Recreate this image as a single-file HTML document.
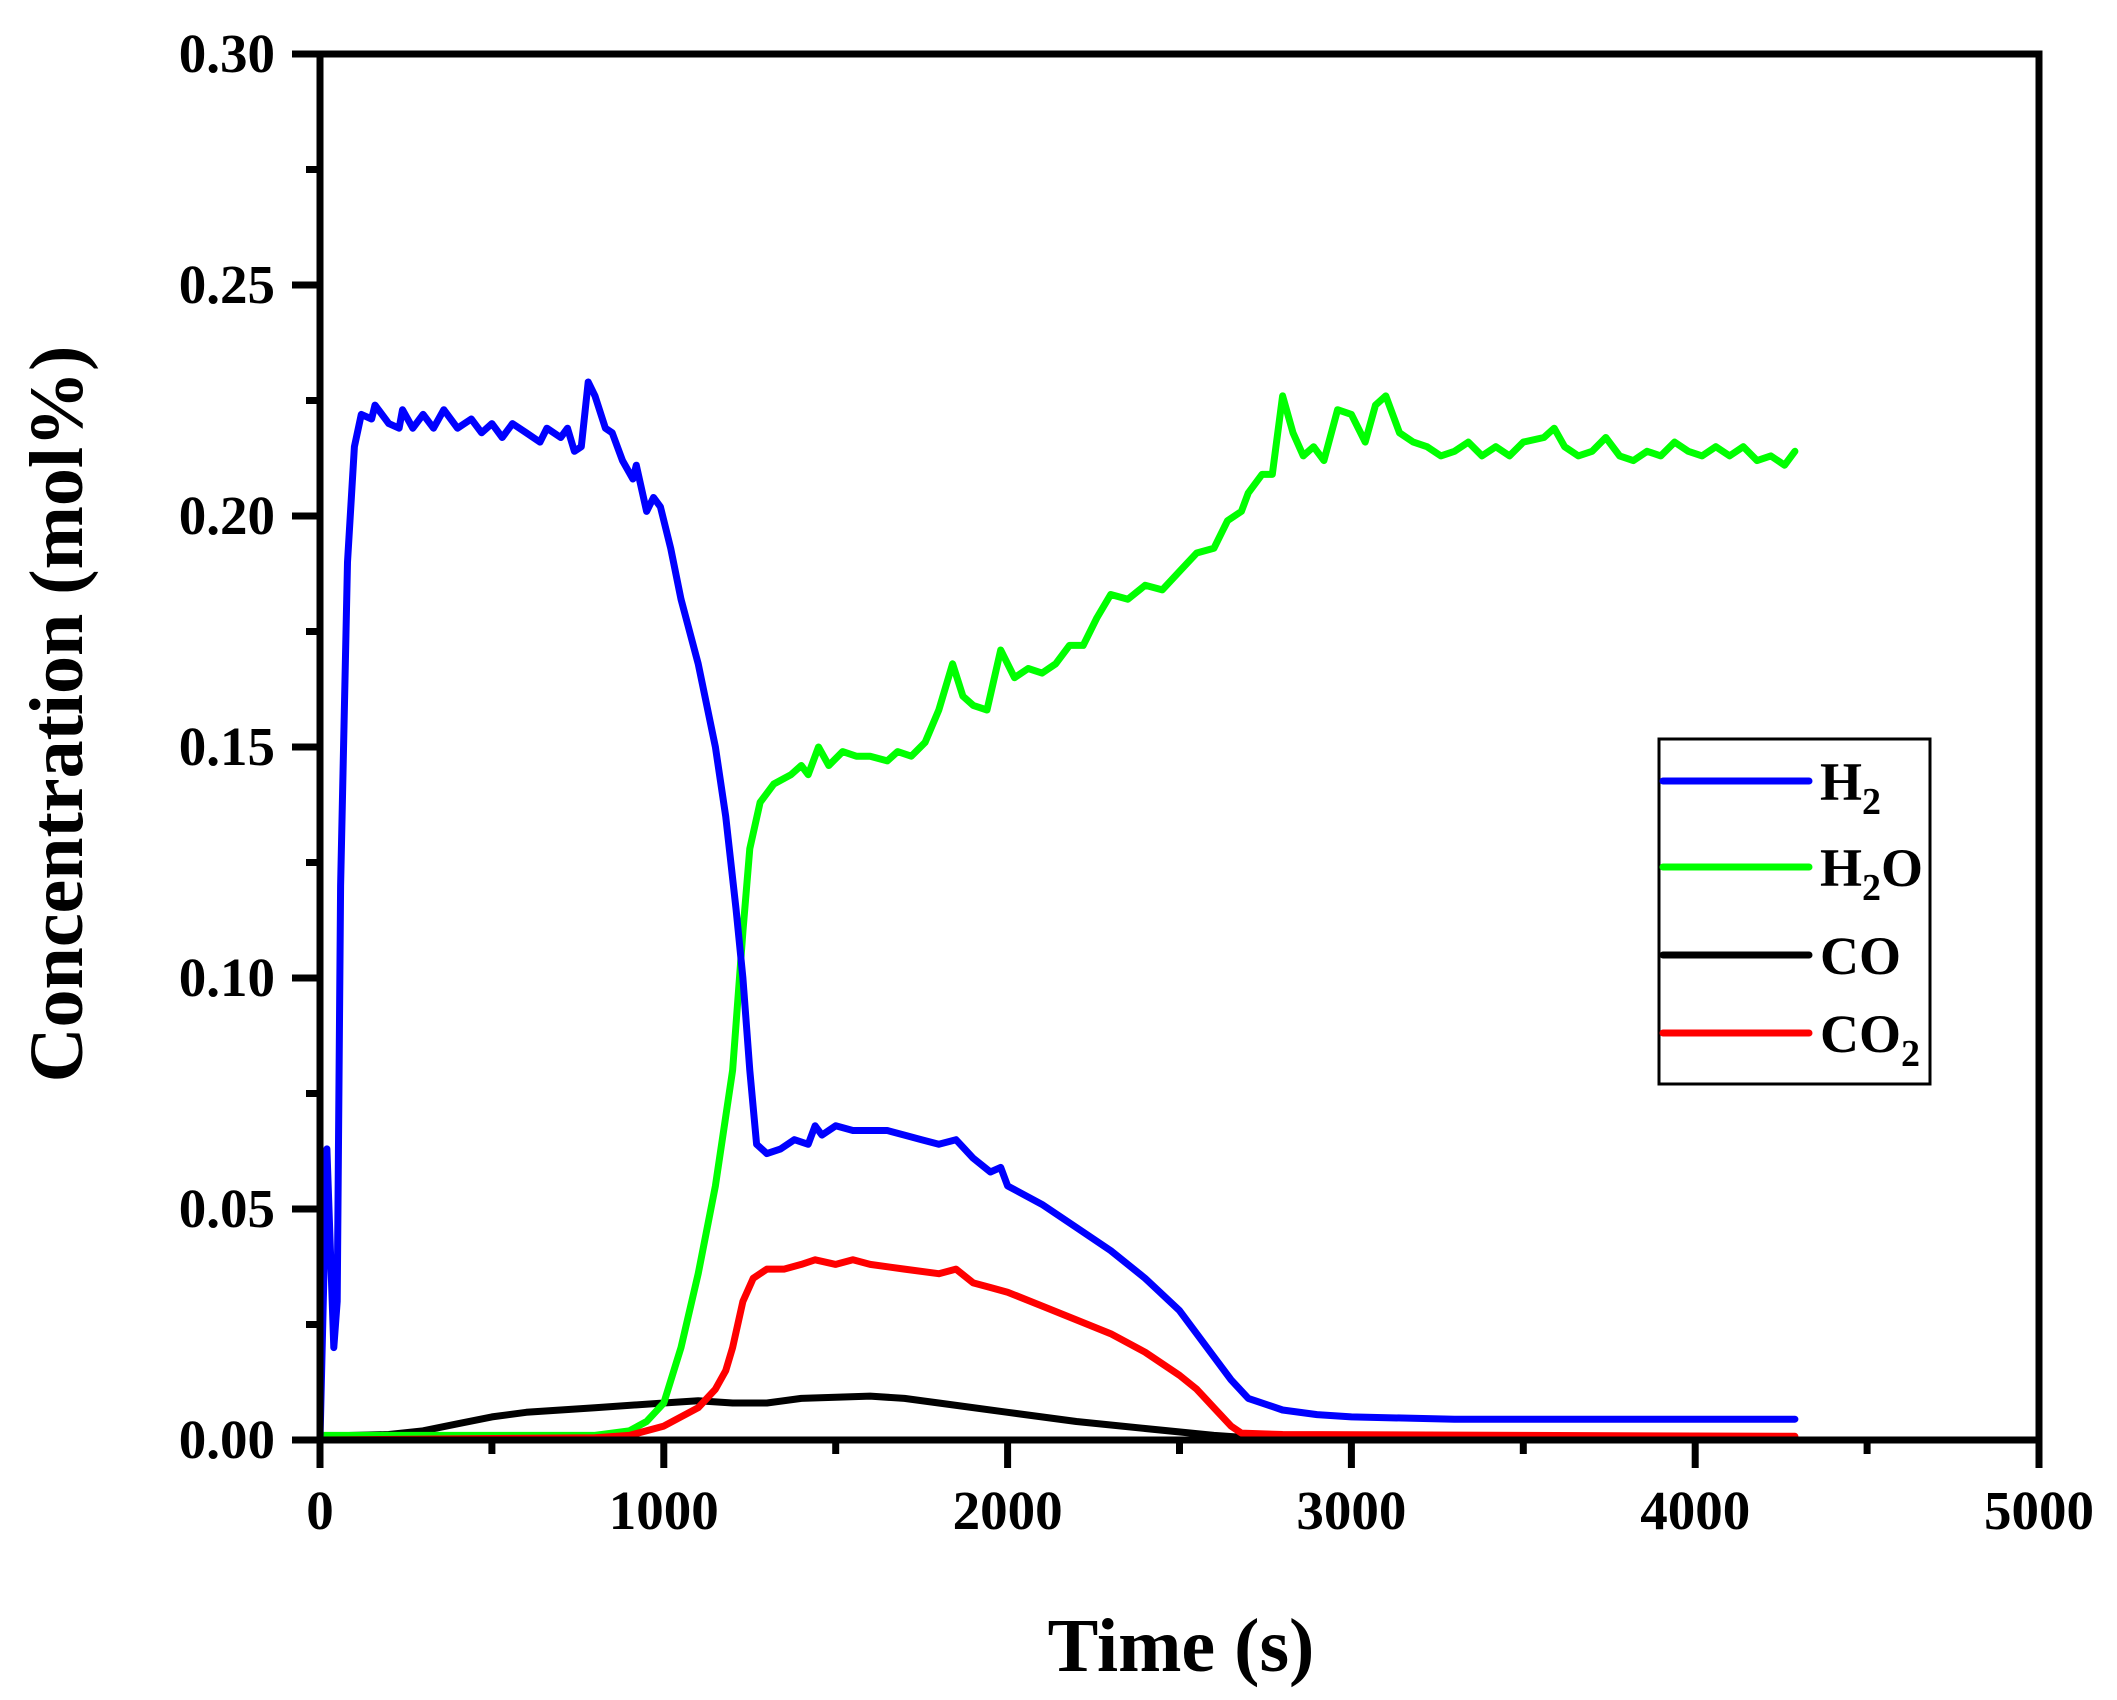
<!DOCTYPE html>
<html><head><meta charset="utf-8"><style>
html,body{margin:0;padding:0;background:#fff;}
svg{display:block;font-family:"Liberation Serif",serif;font-weight:bold;}
</style></head><body>
<svg id="chart" width="2117" height="1700" viewBox="0 0 2117 1700" xmlns="http://www.w3.org/2000/svg">
<g id="plot"></g>
<g id="axes"></g>
<text x="1181" y="1671" font-size="76" text-anchor="middle">Time (s)</text>
<text transform="translate(82,714) rotate(-90)" font-size="76" text-anchor="middle">Concentration (mol%)</text>
<g>
<rect x="1659" y="739" width="271" height="345" fill="#fff" stroke="#000" stroke-width="3"/>
<line x1="1663" y1="781" x2="1809" y2="781" stroke="#0000ff" stroke-width="7" stroke-linecap="round"/>
<text x="1820" y="800" font-size="54">H<tspan font-size="38" dy="14">2</tspan></text>
<line x1="1663" y1="867" x2="1809" y2="867" stroke="#00ff00" stroke-width="7" stroke-linecap="round"/>
<text x="1820" y="886" font-size="54">H<tspan font-size="38" dy="14">2</tspan><tspan dy="-14">O</tspan></text>
<line x1="1663" y1="955" x2="1809" y2="955" stroke="#000" stroke-width="7" stroke-linecap="round"/>
<text x="1820" y="974" font-size="54">CO</text>
<line x1="1663" y1="1033" x2="1809" y2="1033" stroke="#ff0000" stroke-width="7" stroke-linecap="round"/>
<text x="1820" y="1052" font-size="54">CO<tspan font-size="38" dy="14">2</tspan></text>
</g>
</svg>
<script>
const xTicks=[0,1000,2000,3000,4000,5000];
const yTicks=[0,0.05,0.10,0.15,0.20,0.25,0.30];
const yTickLabels=["0.00","0.05","0.10","0.15","0.20","0.25","0.30"];
const h2T=[0,20,40,50,60,80,100,120,150,160,200,230,240,270,300,330,360,400,440,470,500,530,560,600,640,660,700,720,740,760,780,800,830,850,880,910,920,950,970,990,1020,1050,1100,1150,1180,1210,1230,1250,1270,1300,1340,1380,1420,1440,1460,1500,1550,1600,1650,1700,1750,1800,1850,1900,1950,1980,2000,2100,2200,2300,2400,2500,2600,2650,2700,2800,2900,3000,3300,4290];
const h2V=[0,0.063,0.02,0.03,0.12,0.19,0.215,0.222,0.221,0.224,0.220,0.219,0.223,0.219,0.222,0.219,0.223,0.219,0.221,0.218,0.220,0.217,0.220,0.218,0.216,0.219,0.217,0.219,0.214,0.215,0.229,0.226,0.219,0.218,0.212,0.208,0.211,0.201,0.204,0.202,0.193,0.182,0.168,0.150,0.135,0.115,0.100,0.080,0.064,0.062,0.063,0.065,0.064,0.068,0.066,0.068,0.067,0.067,0.067,0.066,0.065,0.064,0.065,0.061,0.058,0.059,0.055,0.051,0.046,0.041,0.035,0.028,0.018,0.013,0.009,0.0065,0.0055,0.005,0.0045,0.0045];
const h2oT=[0,500,800,900,950,1000,1050,1100,1150,1200,1230,1250,1280,1320,1370,1400,1420,1450,1480,1520,1560,1600,1650,1680,1720,1760,1800,1840,1870,1900,1940,1980,2020,2060,2100,2140,2180,2220,2260,2300,2350,2400,2450,2500,2550,2600,2640,2680,2700,2740,2770,2800,2830,2860,2890,2920,2960,3000,3040,3070,3100,3140,3180,3220,3260,3300,3340,3380,3420,3460,3500,3560,3590,3620,3660,3700,3740,3780,3820,3860,3900,3940,3980,4020,4060,4100,4140,4180,4220,4260,4290];
const h2oV=[0.001,0.001,0.001,0.002,0.004,0.008,0.02,0.036,0.055,0.08,0.11,0.128,0.138,0.142,0.144,0.146,0.144,0.150,0.146,0.149,0.148,0.148,0.147,0.149,0.148,0.151,0.158,0.168,0.161,0.159,0.158,0.171,0.165,0.167,0.166,0.168,0.172,0.172,0.178,0.183,0.182,0.185,0.184,0.188,0.192,0.193,0.199,0.201,0.205,0.209,0.209,0.226,0.218,0.213,0.215,0.212,0.223,0.222,0.216,0.224,0.226,0.218,0.216,0.215,0.213,0.214,0.216,0.213,0.215,0.213,0.216,0.217,0.219,0.215,0.213,0.214,0.217,0.213,0.212,0.214,0.213,0.216,0.214,0.213,0.215,0.213,0.215,0.212,0.213,0.211,0.214];
const coT=[0,200,300,400,500,600,800,1000,1100,1200,1300,1400,1600,1700,1800,2000,2200,2400,2600,2700,3000,4290];
const coV=[0.0008,0.0012,0.002,0.0035,0.005,0.006,0.007,0.008,0.0085,0.008,0.008,0.009,0.0095,0.009,0.008,0.006,0.004,0.0025,0.001,0.0005,0.0003,0.0003];
const co2T=[0,800,900,1000,1100,1150,1180,1200,1230,1260,1300,1350,1400,1440,1500,1550,1600,1700,1800,1850,1900,1950,2000,2100,2200,2300,2400,2500,2550,2600,2650,2680,2800,3500,4290];
const co2V=[0,0.0005,0.001,0.003,0.007,0.011,0.015,0.020,0.03,0.035,0.037,0.037,0.038,0.039,0.038,0.039,0.038,0.037,0.036,0.037,0.034,0.033,0.032,0.029,0.026,0.023,0.019,0.014,0.011,0.007,0.003,0.0015,0.0012,0.001,0.0008];

const L=320,R=2039,T=54,B=1440;
function xs(t){return L+t/5000*(R-L);}
function ys(v){return B-v/0.3*(B-T);}
const NS="http://www.w3.org/2000/svg";
const plot=document.getElementById('plot'),axes=document.getElementById('axes');
function mk(tag,attrs,parent){const e=document.createElementNS(NS,tag);for(const k in attrs)e.setAttribute(k,attrs[k]);parent.appendChild(e);return e;}
function series(ts,vs,color,name){
  const d=ts.map((t,i)=>(i?'L':'M')+xs(t).toFixed(1)+','+ys(vs[i]).toFixed(1)).join('');
  const p=mk('path',{d:d,fill:'none',stroke:color,'stroke-width':7,'stroke-linejoin':'round','stroke-linecap':'round'},plot);
  
  
}
series(coT,coV,'#000','co-line');
series(h2oT,h2oV,'#00ff00','h2o-line');
series(co2T,co2V,'#ff0000','co2-line');
series(h2T,h2V,'#0000ff','h2-line');
const frame=mk('rect',{x:L,y:T,width:R-L,height:B-T,fill:'none',stroke:'#000','stroke-width':7},axes);


xTicks.forEach((t,i)=>{
  const x=xs(t);
  const tk=mk('line',{x1:x,y1:B,x2:x,y2:B+28,stroke:'#000','stroke-width':7},axes);
  
  
  if(i<xTicks.length-1){const m=mk('line',{x1:xs(t+500),y1:B,x2:xs(t+500),y2:B+14,stroke:'#000','stroke-width':7},axes);
  
  }
  const lb=mk('text',{x:x,y:1529,'font-size':55,'text-anchor':'middle'},axes);lb.textContent=String(t);
  
  
});
yTicks.forEach((v,i)=>{
  const y=ys(v);
  const tk=mk('line',{x1:L-28,y1:y,x2:L,y2:y,stroke:'#000','stroke-width':7},axes);
  
  
  if(i<yTicks.length-1){const m=mk('line',{x1:L-14,y1:ys(v+0.025),x2:L,y2:ys(v+0.025),stroke:'#000','stroke-width':7},axes);
  
  }
  const lb=mk('text',{x:275,y:y+18,'font-size':55,'text-anchor':'end'},axes);lb.textContent=yTickLabels[i];
  
  
});
</script>
</body></html>
